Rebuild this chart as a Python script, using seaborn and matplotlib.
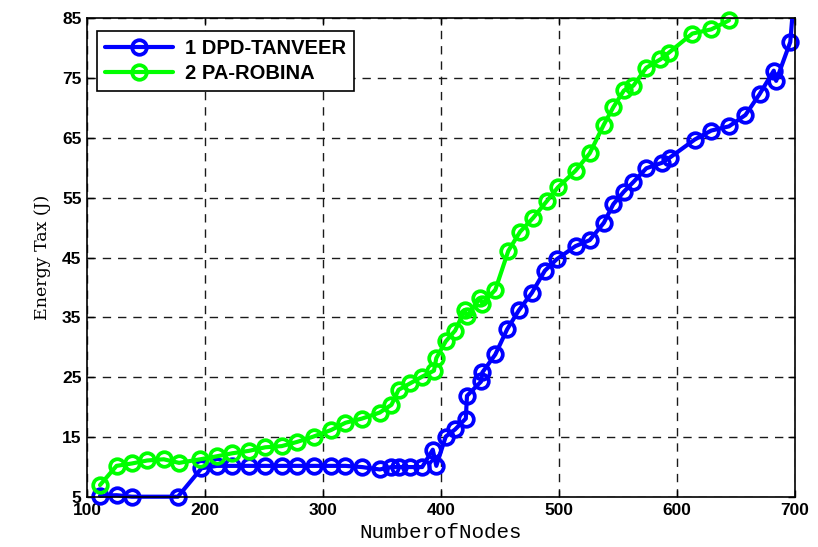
import numpy as np
import pandas as pd
import seaborn as sns
import matplotlib
matplotlib.use("Agg")
import matplotlib.pyplot as plt
from matplotlib.patches import Rectangle

# Energy tax versus number of nodes for the two schemes
dpd_nodes = [111, 125, 138, 177, 197, 210, 223, 237, 251, 265,
             278, 292, 307, 319, 333, 348, 358, 364, 374, 384,
             393, 396, 404, 412, 421, 422, 434, 435, 446, 456,
             466, 477, 488, 498, 514, 526, 538, 546, 555, 563,
             574, 587, 594, 615, 629, 644, 658, 670, 682, 684,
             696, 701]
dpd_energy = [5.2, 5.3, 5.05, 5.05, 9.8, 10.2, 10.2, 10.2, 10.2, 10.2,
              10.2, 10.2, 10.2, 10.2, 10.0, 9.6, 10.0, 10.0, 10.0, 10.0,
              12.9, 10.2, 15.1, 16.3, 18.1, 21.9, 24.3, 25.8, 28.8, 33.0,
              36.2, 39.1, 42.8, 44.7, 46.9, 47.9, 50.8, 53.9, 56.0, 57.6,
              59.9, 60.8, 61.7, 64.7, 66.2, 66.9, 68.8, 72.3, 76.2, 74.5,
              81.0, 93.0]

pa_nodes = [111, 125, 138, 151, 165, 178, 196, 210, 223, 237,
            251, 265, 278, 292, 307, 319, 333, 348, 358, 364,
            374, 384, 394, 396, 404, 412, 420, 422, 433, 435,
            446, 457, 467, 478, 490, 499, 514, 526, 538, 546,
            555, 563, 574, 586, 593, 613, 629, 644]
pa_energy = [7.0, 10.2, 10.6, 11.1, 11.3, 10.7, 11.3, 11.8, 12.3, 12.7,
             13.3, 13.5, 14.2, 15.1, 16.2, 17.4, 18.1, 19.1, 20.4, 22.9,
             24.0, 25.1, 26.1, 28.2, 31.0, 32.8, 36.2, 35.2, 38.2, 37.3,
             39.6, 46.1, 49.3, 51.6, 54.5, 56.7, 59.5, 62.4, 67.2, 70.1,
             72.9, 73.7, 76.7, 78.1, 79.2, 82.4, 83.1, 84.6]

series_labels = ["1 DPD-TANVEER", "2 PA-ROBINA"]
series_colors = ["#0000ff", "#00ff00"]

x_ticks = [100, 200, 300, 400, 500, 600, 700]
y_ticks = [5, 15, 25, 35, 45, 55, 65, 75, 85]

sns.set_style("ticks")
plt.rcParams["font.family"] = ["Liberation Sans", "DejaVu Sans"]
plt.rcParams.update({"text.color": "black", "axes.labelcolor": "black",
                     "xtick.color": "black", "ytick.color": "black"})

fig = plt.figure(figsize=(8.18, 5.47), dpi=100)
ax = fig.add_axes([0.1064, 0.0914, 0.8655, 0.8757])

dpd = pd.DataFrame({"nodes": dpd_nodes, "energy": dpd_energy})
pa = pd.DataFrame({"nodes": pa_nodes, "energy": pa_energy})

line_kw = dict(marker="o", markersize=10.5, markerfacecolor="none",
               markeredgewidth=2.7, linewidth=3.0, sort=False,
               estimator=None)
sns.lineplot(data=dpd, x="nodes", y="energy", ax=ax, color=series_colors[0],
             label=series_labels[0], markeredgecolor=series_colors[0], **line_kw)
sns.lineplot(data=pa, x="nodes", y="energy", ax=ax, color=series_colors[1],
             label=series_labels[1], markeredgecolor=series_colors[1], **line_kw)

ax.set_xlim(100, 700)
ax.set_ylim(5, 85)
ax.set_xticks(x_ticks)
ax.set_yticks(y_ticks)

# let markers sitting on the frame spill slightly outside it
lines = ax.get_lines()
clip_blue = Rectangle((-0.03, -0.04), 1.06, 1.04, transform=ax.transAxes)
clip_green = Rectangle((-0.03, -0.04), 1.06, 1.08, transform=ax.transAxes)
lines[0].set_clip_path(clip_blue)
lines[1].set_clip_path(clip_green)

ax.grid(True, color="0.1", linestyle=(0, (6, 5)), linewidth=1.0)
ax.set_axisbelow(True)
for side in ["top", "right", "bottom", "left"]:
    ax.spines[side].set_visible(True)
    ax.spines[side].set_color("black")
    ax.spines[side].set_linewidth(1.2)
ax.tick_params(direction="in", top=True, right=True, length=5, width=1,
               labelsize=12.5, pad=4, colors="black")
for lab in ax.get_xticklabels() + ax.get_yticklabels():
    lab.set_fontweight("bold")

ax.set_xlabel("NumberofNodes", family=["Liberation Mono", "DejaVu Sans Mono"],
              fontsize=15, labelpad=4)
ax.set_ylabel("Energy Tax (J)", family=["DejaVu Serif"], fontsize=12.5,
              labelpad=8)

leg = ax.legend(loc="upper left", bbox_to_anchor=(0.014, 0.973),
                borderaxespad=0, frameon=True, fancybox=False,
                prop={"weight": "bold", "size": 14.5}, handlelength=3.4,
                borderpad=0.4, labelspacing=0.3, handletextpad=0.55)
leg.get_frame().set_edgecolor("black")
leg.get_frame().set_linewidth(1.2)
leg.get_frame().set_alpha(1)

fig.savefig("out.png", dpi=100)
